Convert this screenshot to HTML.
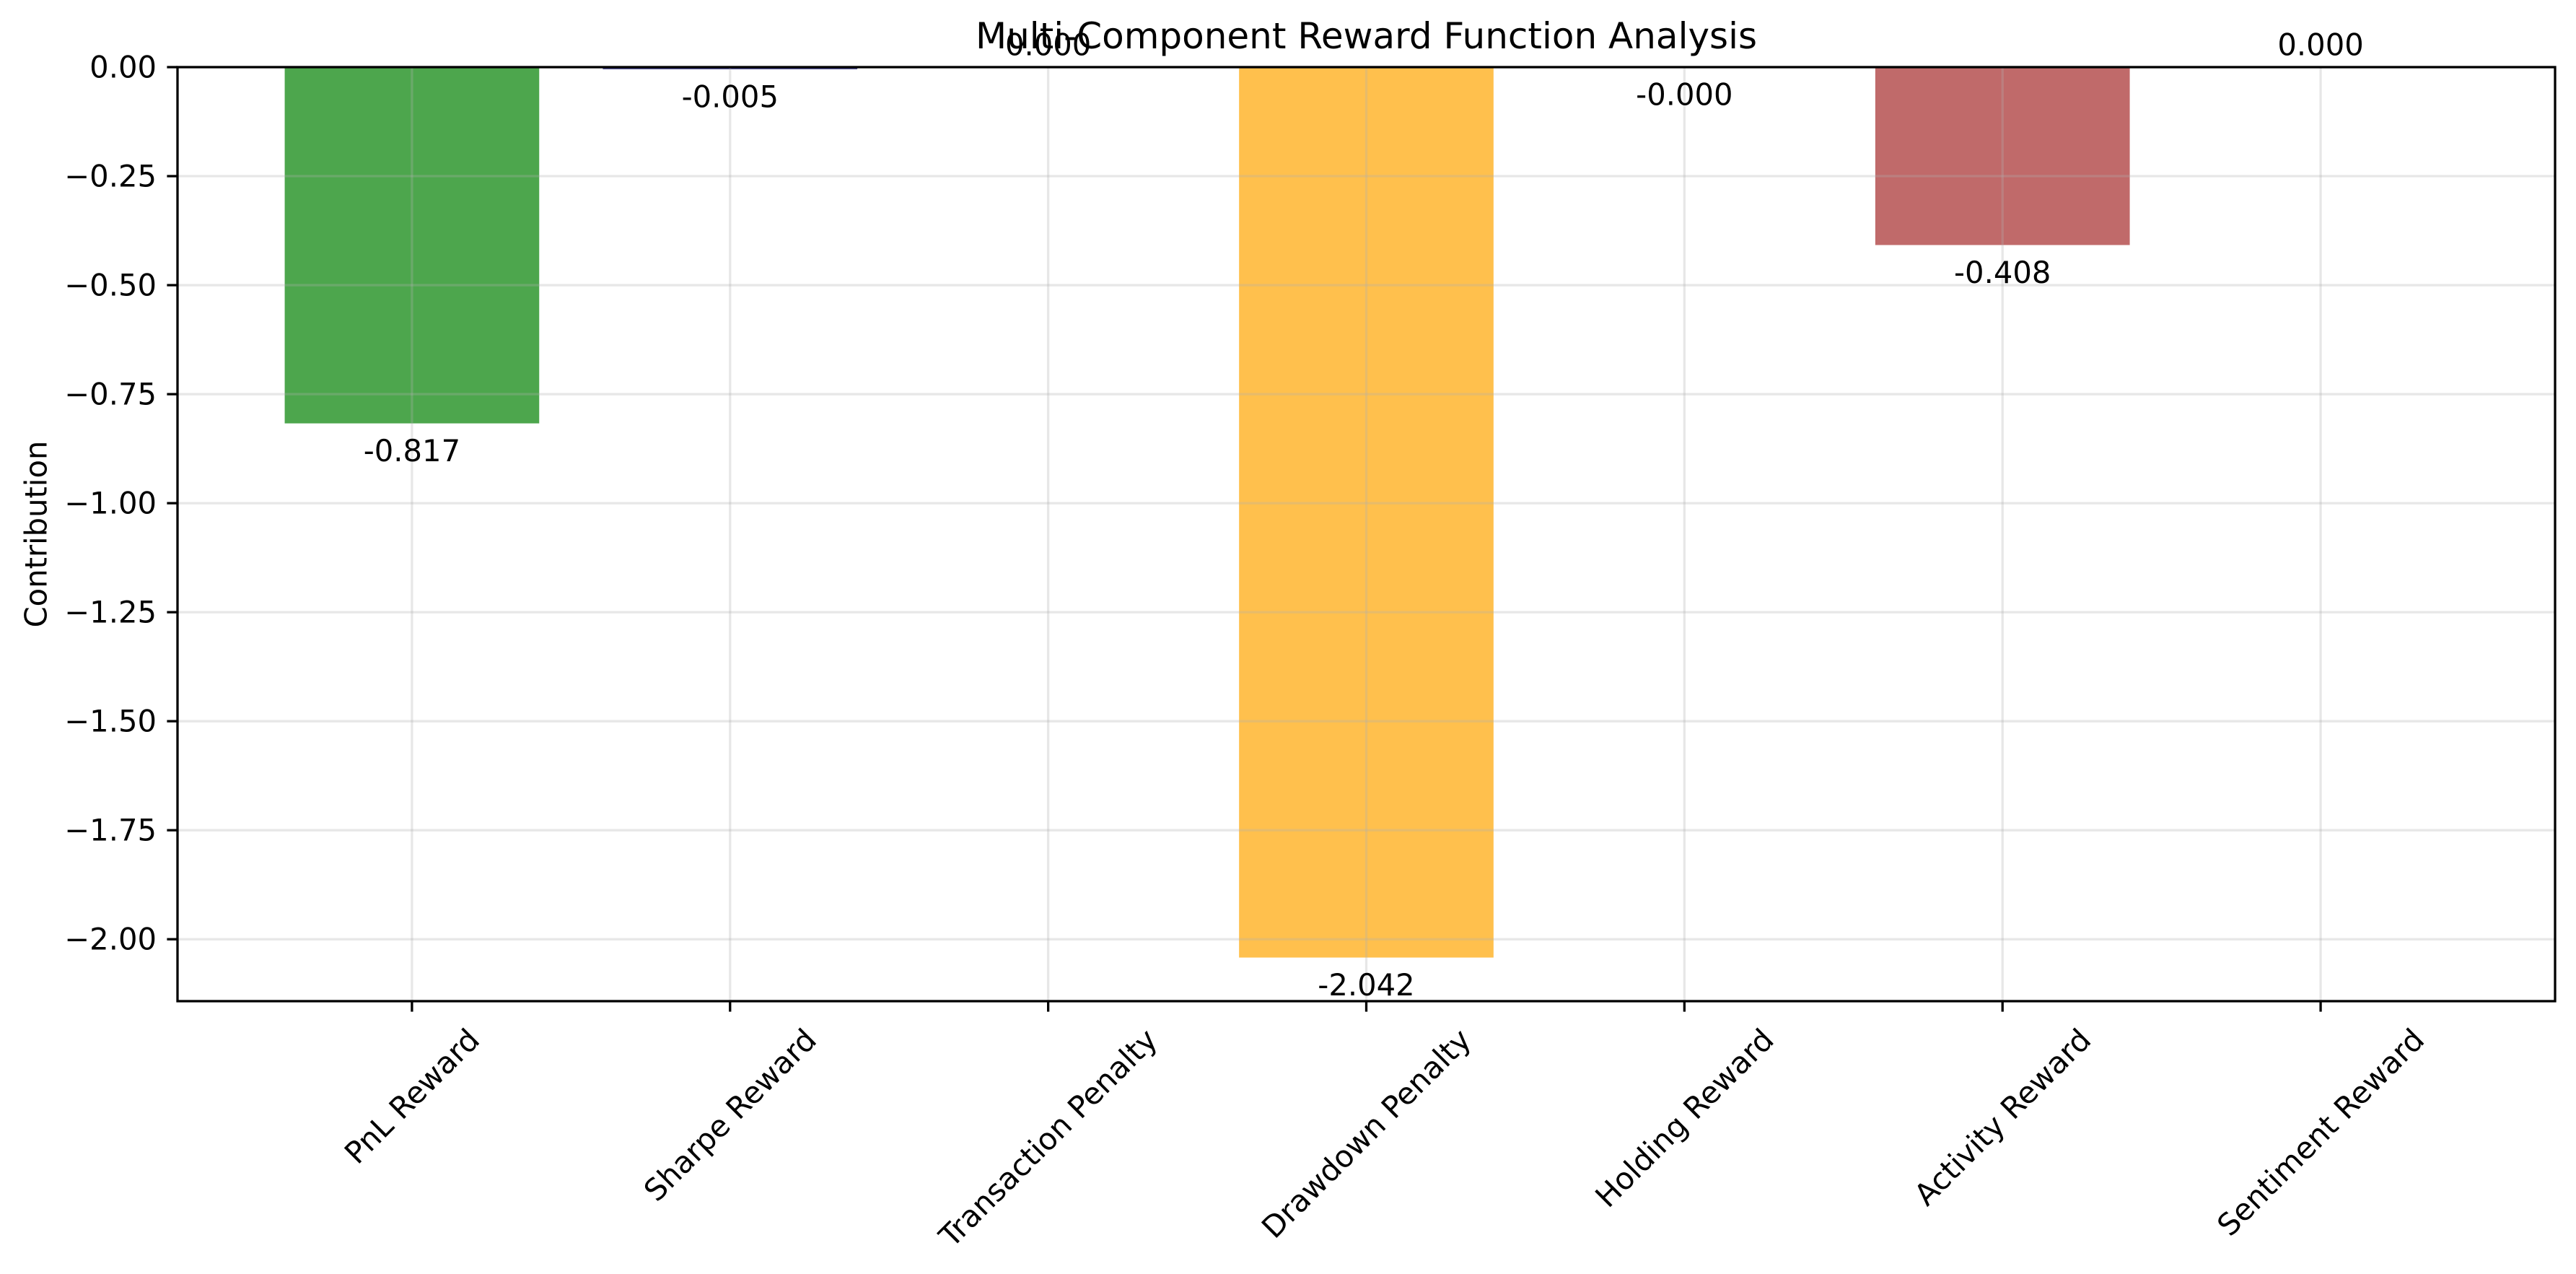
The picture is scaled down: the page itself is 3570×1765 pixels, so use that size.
<!DOCTYPE html>
<html><head><meta charset="utf-8">
<style>
html,body{margin:0;padding:0;background:#fff;}
svg{display:block;font-family:"DejaVu Sans","Liberation Sans",sans-serif;}
</style></head>
<body>
<svg id="chart" width="3570" height="1765" viewBox="0 0 3570 1765" xmlns="http://www.w3.org/2000/svg">
<rect width="3570" height="1765" fill="#fff"/>
<g id="bars"></g>
<g id="grid"></g>
<g id="axes"></g>
<g id="labels"></g>
</svg>
<script>
const categories = ["PnL Reward","Sharpe Reward","Transaction Penalty","Drawdown Penalty","Holding Reward","Activity Reward","Sentiment Reward"];
const values = [-0.817,-0.005,0.000,-2.042,-0.0001,-0.408,0.000];
const valueLabels = ["-0.817","-0.005","0.000","-2.042","-0.000","-0.408","0.000"];
const barColors = ["#4da64d","#4d4d94","#e06060","#ffc04d","#a07cc0","#c06a6a","#8c8c8c"];
const yTicks = [0,-0.25,-0.5,-0.75,-1.0,-1.25,-1.5,-1.75,-2.0];
const yTickLabels = ["0.00","\u22120.25","\u22120.50","\u22120.75","\u22121.00","\u22121.25","\u22121.50","\u22121.75","\u22122.00"];

const NS="http://www.w3.org/2000/svg";
const L=246,R=3541,T=93,B=1387;
const yMax=0, yMin=-2.142;
const n=categories.length;
const xMin=-0.737, xMax=n-1+0.737;
function xs(i){return L+(i-xMin)/(xMax-xMin)*(R-L);}
function ys(v){return T+(yMax-v)/(yMax-yMin)*(B-T);}
const bw=(xs(1)-xs(0))*0.8;
function mk(tag,attrs,parent){const e=document.createElementNS(NS,tag);for(const k in attrs)e.setAttribute(k,attrs[k]);parent.appendChild(e);return e;}
const gB=document.getElementById('bars'),gG=document.getElementById('grid'),gA=document.getElementById('axes'),gL=document.getElementById('labels');

values.forEach((v,i)=>{
  const y0=ys(0),y1=ys(v);
  const r=mk('rect',{x:xs(i)-bw/2,y:Math.min(y0,y1),width:bw,height:Math.abs(y1-y0),fill:barColors[i]},gB);
  
  
  const neg=v<0;
  const t=mk('text',{x:xs(i),y:neg?y1+38:y0-31,'text-anchor':'middle','dominant-baseline':'central','font-size':'41.7',fill:'#000'},gL);
  t.textContent=valueLabels[i];
  
  
});
yTicks.forEach(v=>{const l=mk('line',{x1:L,x2:R,y1:ys(v),y2:ys(v),stroke:'#b0b0b0','stroke-opacity':0.3,'stroke-width':3.3},gG);

});
categories.forEach((c,i)=>{const l=mk('line',{x1:xs(i),x2:xs(i),y1:T,y2:B,stroke:'#b0b0b0','stroke-opacity':0.3,'stroke-width':3.3},gG);

});
const fr=mk('rect',{x:L,y:T,width:R-L,height:B-T,fill:'none',stroke:'#000','stroke-width':3.3},gA);


yTicks.forEach((v,k)=>{
  const tk=mk('line',{x1:L-14.6,x2:L,y1:ys(v),y2:ys(v),stroke:'#000','stroke-width':3.3},gA);
  
  
  const t=mk('text',{x:L-29,y:ys(v),'text-anchor':'end','dominant-baseline':'central','font-size':'41.7'},gA);
  t.textContent=yTickLabels[k];
  
  
});
categories.forEach((c,i)=>{
  const tk=mk('line',{x1:xs(i),x2:xs(i),y1:B,y2:B+14.6,stroke:'#000','stroke-width':3.3},gA);
  
  
  const t=mk('text',{x:0,y:0,'text-anchor':'middle','dominant-baseline':'central','font-size':'41.7'},gA);
  t.textContent=c;
  
  
  const w=t.getComputedTextLength(), h=48;
  const cy=B+29+(w+h)/(2*Math.SQRT2);
  t.setAttribute('transform','translate('+xs(i)+','+cy+') rotate(-45)');
});
const title=mk('text',{x:(L+R)/2,y:50,'text-anchor':'middle','dominant-baseline':'central','font-size':'50'},gA);
title.textContent='Multi-Component Reward Function Analysis';


const yl=mk('text',{x:0,y:0,'text-anchor':'middle','dominant-baseline':'central','font-size':'41.7',transform:'translate(50,'+((T+B)/2)+') rotate(-90)'},gA);
yl.textContent='Contribution';


</script>
</body></html>
